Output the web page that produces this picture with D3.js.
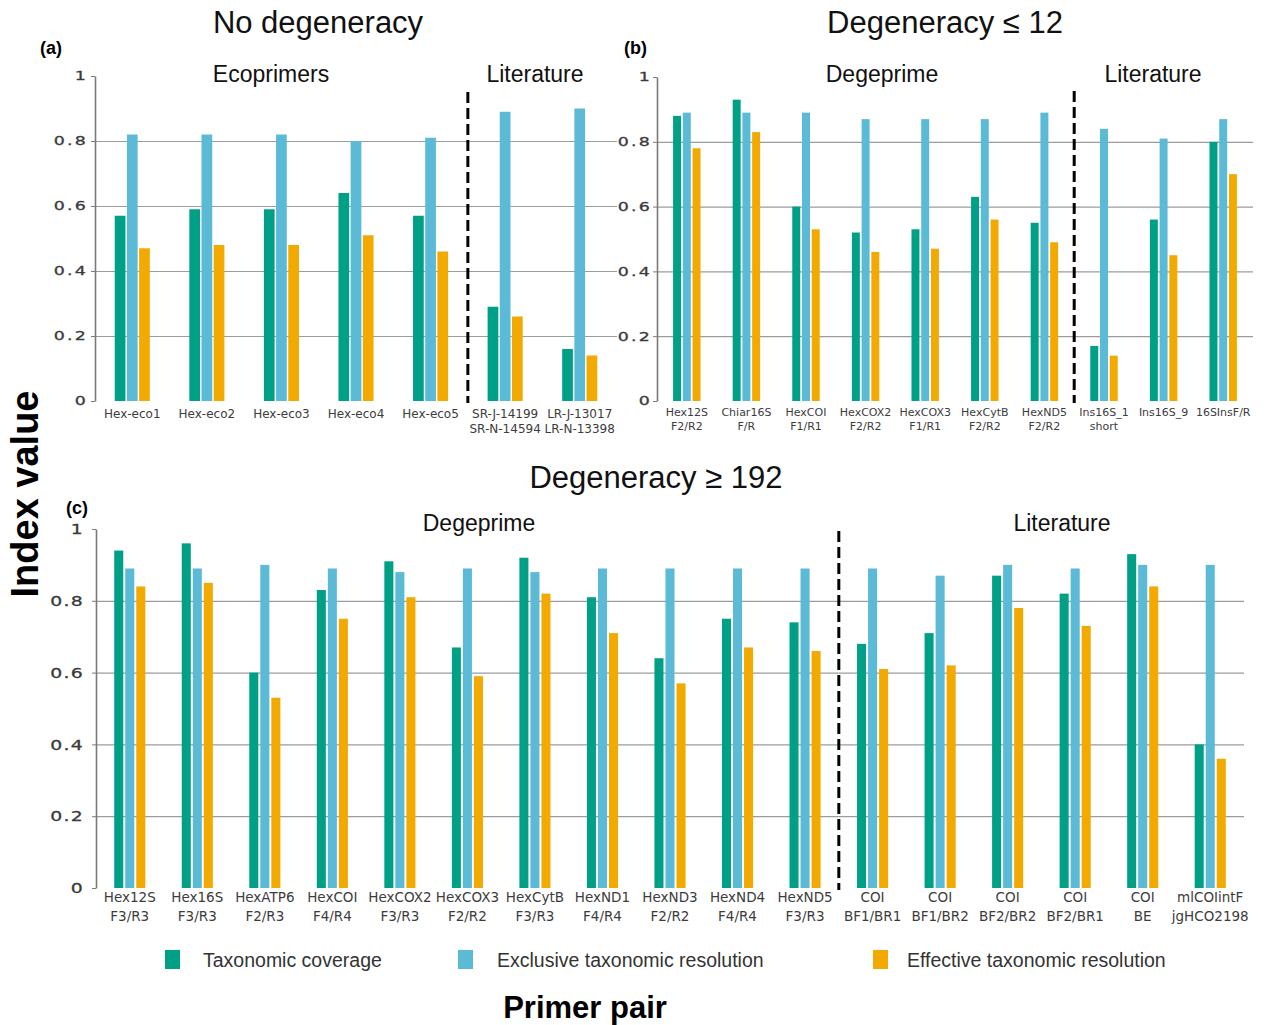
<!DOCTYPE html>
<html><head><meta charset="utf-8">
<script src="https://cdn.jsdelivr.net/npm/d3@7"></script>
<style>body{margin:0;background:#fff}</style>
</head><body>
<svg id="chart" width="1273" height="1025"></svg>
<script>
// ---------------- DATA ----------------
const seriesNames = ["Taxonomic coverage", "Exclusive taxonomic resolution", "Effective taxonomic resolution"];
const seriesColors = ["#00a087", "#5bbad6", "#f2aa00"];
const yTickValues = [0, 0.2, 0.4, 0.6, 0.8, 1];
const yTickLabels = ["0", "0.2", "0.4", "0.6", "0.8", "1"];

// Panel (a) – No degeneracy
const aCategories = ["Hex-eco1", "Hex-eco2", "Hex-eco3", "Hex-eco4", "Hex-eco5", "SR-J-14199\nSR-N-14594", "LR-J-13017\nLR-N-13398"];
const aCoverage  = [0.57, 0.59, 0.59, 0.64, 0.57, 0.29, 0.16];
const aExclusive = [0.82, 0.82, 0.82, 0.80, 0.81, 0.89, 0.90];
const aEffective = [0.47, 0.48, 0.48, 0.51, 0.46, 0.26, 0.14];

// Panel (b) – Degeneracy <= 12
const bCategories = ["Hex12S\nF2/R2", "Chiar16S\nF/R", "HexCOI\nF1/R1", "HexCOX2\nF2/R2", "HexCOX3\nF1/R1", "HexCytB\nF2/R2", "HexND5\nF2/R2", "Ins16S_1\nshort", "Ins16S_9", "16SInsF/R"];
const bCoverage  = [0.88, 0.93, 0.60, 0.52, 0.53, 0.63, 0.55, 0.17, 0.56, 0.80];
const bExclusive = [0.89, 0.89, 0.89, 0.87, 0.87, 0.87, 0.89, 0.84, 0.81, 0.87];
const bEffective = [0.78, 0.83, 0.53, 0.46, 0.47, 0.56, 0.49, 0.14, 0.45, 0.70];

// Panel (c) – Degeneracy >= 192
const cCategories = ["Hex12S\nF3/R3", "Hex16S\nF3/R3", "HexATP6\nF2/R3", "HexCOI\nF4/R4", "HexCOX2\nF3/R3", "HexCOX3\nF2/R2", "HexCytB\nF3/R3", "HexND1\nF4/R4", "HexND3\nF2/R2", "HexND4\nF4/R4", "HexND5\nF3/R3", "COI\nBF1/BR1", "COI\nBF1/BR2", "COI\nBF2/BR2", "COI\nBF2/BR1", "COI\nBE", "mlCOIintF\njgHCO2198"];
const cCoverage  = [0.94, 0.96, 0.60, 0.83, 0.91, 0.67, 0.92, 0.81, 0.64, 0.75, 0.74, 0.68, 0.71, 0.87, 0.82, 0.93, 0.40];
const cExclusive = [0.89, 0.89, 0.90, 0.89, 0.88, 0.89, 0.88, 0.89, 0.89, 0.89, 0.89, 0.89, 0.87, 0.90, 0.89, 0.90, 0.90];
const cEffective = [0.84, 0.85, 0.53, 0.75, 0.81, 0.59, 0.82, 0.71, 0.57, 0.67, 0.66, 0.61, 0.62, 0.78, 0.73, 0.84, 0.36];

// ---------------- DRAWING ----------------
const svg = d3.select("#chart");
const sans = "'Liberation Sans', Arial, sans-serif";
const verd = "'DejaVu Sans', Verdana, sans-serif";

function drawPanel(p) {
  const series = [p.coverage, p.exclusive, p.effective];
  const idx = d3.range(p.categories.length);
  const x0 = d3.scaleBand().domain(idx).range([p.left, p.right]).paddingInner(0.51).paddingOuter(0.255);
  const x1 = d3.scaleBand().domain([0, 1, 2]).range([0, x0.bandwidth()]).paddingInner(p.barPad).paddingOuter(p.barPad / 2);
  const y = d3.scaleLinear().domain([0, 1]).range([p.bottom, p.top]);
  const g = svg.append("g");

  // gridlines
  g.append("g").attr("transform", `translate(${p.left},0)`)
    .call(d3.axisLeft(y).tickValues([0.2, 0.4, 0.6, 0.8]).tickSize(-(p.right - p.left)).tickSizeOuter(0).tickFormat(""))
    .call(s => { s.select(".domain").remove(); s.selectAll("line").attr("stroke", "#9c9c9c").attr("stroke-width", 1.2); });

  // y axis
  const ax = g.append("g").attr("transform", `translate(${p.left},0)`)
    .call(d3.axisLeft(y).tickValues(yTickValues).tickFormat((d, i) => yTickLabels[i]).tickSize(4).tickSizeOuter(0));
  ax.select(".domain").attr("stroke", "#7a7a7a").attr("stroke-width", 1.6);
  ax.selectAll(".tick line").attr("stroke", "#7a7a7a");
  ax.selectAll(".tick text")
    .attr("font-family", verd).attr("font-size", p.tickFont).attr("fill", "#3a3a3a")
    .attr("stroke", "#3a3a3a").attr("stroke-width", 0.3)
    .attr("letter-spacing", p.tickSpacing)
    .attr("transform", `scale(${p.tickScale},1)`)
    .attr("x", -p.tickGap / p.tickScale);

  // bars
  idx.forEach(i => {
    series.forEach((vals, s) => {
      g.append("rect")
        .attr("x", x0(i) + x1(s))
        .attr("y", y(vals[i]))
        .attr("width", x1.bandwidth())
        .attr("height", y(0) - y(vals[i]))
        .attr("fill", seriesColors[s]);
    });
  });

  // category labels
  idx.forEach(i => {
    const t = g.append("text")
      .attr("x", x0(i) + x0.bandwidth() / 2)
      .attr("y", p.labelY)
      .attr("text-anchor", "middle")
      .attr("font-family", verd).attr("font-size", p.labelFont).attr("fill", "#3c3c3c");
    p.categories[i].split("\n").forEach((line, k) => {
      t.append("tspan").attr("x", x0(i) + x0.bandwidth() / 2).attr("y", p.labelY + k * p.lineH).text(line);
    });
  });

  // dashed divider
  const dx = (x0(p.divider - 1) + x0.bandwidth() + x0(p.divider)) / 2;
  g.append("line").attr("x1", dx).attr("x2", dx).attr("y1", p.dashTop).attr("y2", p.bottom + 2)
    .attr("stroke", "#000").attr("stroke-width", 3).attr("stroke-dasharray", "11,5");

  // subgroup titles
  p.subtitles.forEach(st => {
    g.append("text").attr("x", st.x).attr("y", p.subY).attr("text-anchor", "middle")
      .attr("font-family", sans).attr("font-size", 23).attr("fill", "#111").text(st.text);
  });

  // panel letter
  g.append("text").attr("x", p.letterX).attr("y", p.letterY)
    .attr("font-family", sans).attr("font-weight", "bold").attr("font-size", 18).attr("fill", "#000").text(p.letter);

  // panel title
  g.append("text").attr("x", p.titleX).attr("y", p.titleY).attr("text-anchor", "middle")
    .attr("font-family", sans).attr("font-size", 31).attr("fill", "#111").text(p.title);
}

drawPanel({
  categories: aCategories, coverage: aCoverage, exclusive: aExclusive, effective: aEffective,
  left: 95, right: 617, top: 76, bottom: 401, barPad: 0.12,
  tickFont: 12, tickSpacing: 1.5, tickScale: 1.45, tickGap: 7,
  labelFont: 12, labelY: 418, lineH: 15, divider: 5, dashTop: 92,
  subtitles: [{ text: "Ecoprimers", x: 271 }, { text: "Literature", x: 535 }], subY: 82,
  letter: "(a)", letterX: 40, letterY: 54, title: "No degeneracy", titleX: 318, titleY: 33
});

drawPanel({
  categories: bCategories, coverage: bCoverage, exclusive: bExclusive, effective: bEffective,
  left: 657, right: 1253, top: 77, bottom: 401, barPad: 0.18,
  tickFont: 12, tickSpacing: 1.5, tickScale: 1.45, tickGap: 5,
  labelFont: 11, labelY: 416, lineH: 13.5, divider: 7, dashTop: 91,
  subtitles: [{ text: "Degeprime", x: 882 }, { text: "Literature", x: 1153 }], subY: 82,
  letter: "(b)", letterX: 624, letterY: 54, title: "Degeneracy  \u2264 12", titleX: 945, titleY: 33
});

drawPanel({
  categories: cCategories, coverage: cCoverage, exclusive: cExclusive, effective: cEffective,
  left: 96, right: 1244, top: 529, bottom: 888, barPad: 0.18,
  tickFont: 14.5, tickSpacing: 1, tickScale: 1.3, tickGap: 12,
  labelFont: 13.5, labelY: 902, lineH: 19, divider: 11, dashTop: 531,
  subtitles: [{ text: "Degeprime", x: 479 }, { text: "Literature", x: 1062 }], subY: 531,
  letter: "(c)", letterX: 66, letterY: 514, title: "Degeneracy  \u2265 192", titleX: 656, titleY: 488
});

// legend
const legendX = [165, 458, 873];
const legendTextX = [203, 497, 907];
seriesNames.forEach((name, i) => {
  svg.append("rect").attr("x", legendX[i]).attr("y", 950).attr("width", 15).attr("height", 19).attr("fill", seriesColors[i]);
  svg.append("text").attr("x", legendTextX[i]).attr("y", 967)
    .attr("font-family", sans).attr("font-size", 19.5).attr("fill", "#333").text(name);
});

// axis titles
svg.append("text").attr("transform", "translate(38,494) rotate(-90)").attr("text-anchor", "middle")
  .attr("font-family", sans).attr("font-weight", "bold").attr("font-size", 38).attr("fill", "#000").text("Index value");
svg.append("text").attr("x", 585).attr("y", 1018).attr("text-anchor", "middle")
  .attr("font-family", sans).attr("font-weight", "bold").attr("font-size", 31).attr("fill", "#000").text("Primer pair");
</script>
</body></html>
